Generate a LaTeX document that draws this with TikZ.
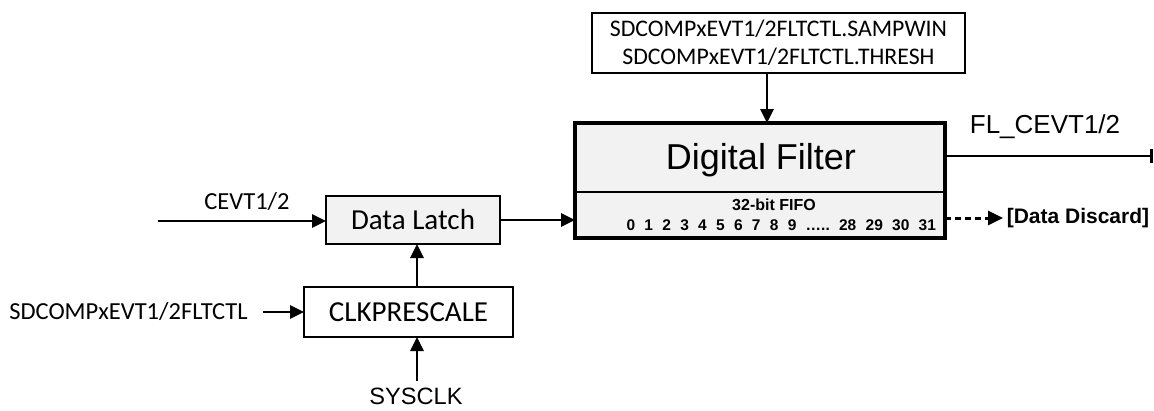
\documentclass[tikz,border=0pt]{standalone}
\usepackage{fontspec}
\setmainfont{Liberation Sans}
\newfontfamily\calfont{Carlito}
\usetikzlibrary{arrows.meta,calc}
\definecolor{boxgray}{RGB}{242,242,242}
\tikzset{
  arr/.style={line width=2.6pt,-{Triangle[length=14pt,width=13pt]}},
  plain/.style={line width=2.6pt},
  blk/.style={draw,line width=2.6pt,minimum width=#1,inner sep=0pt,outer sep=0pt},
  lbl/.style={inner sep=0pt,outer sep=0pt,anchor=center},
}
\newcommand{\gp}{\hspace{0.6em}}
\begin{document}
\begin{tikzpicture}[x=1pt,y=-1pt]
\useasboundingbox (0,0) rectangle (1154,410);
% top register box
\node[blk=373pt,minimum height=60pt,align=center,font=\calfont\fontsize{23.8}{28}\selectfont] (top) at (778.5,43)
  {SDCOMPxEVT1/2FLTCTL.SAMPWIN\\SDCOMPxEVT1/2FLTCTL.THRESH};
% digital filter box
\node[draw,line width=3.6pt,fill=boxgray,minimum width=370pt,minimum height=115pt,inner sep=0pt,outer sep=0pt] (fil) at (760,180.5) {};
\draw[line width=2.6pt] (fil.west |- 0,192) -- (fil.east |- 0,192);
\node[lbl,font=\fontsize{36}{40}\selectfont] (dftxt) at (761,160) {Digital Filter};
\node[lbl,font=\bfseries\fontsize{16}{18}\selectfont] (fifo) at (774,205) {32-bit FIFO};
\node[lbl,font=\bfseries\fontsize{15.5}{18}\selectfont,anchor=east] (nums) at (936,225)
  {0\gp 1\gp 2\gp 3\gp 4\gp 5\gp 6\gp 7\gp 8\gp 9\gp …..\gp 28\gp 29\gp 30\gp 31};
% data latch
\node[blk=174pt,fill=boxgray,minimum height=48pt,font=\calfont\fontsize{29}{32}\selectfont] (dl) at (413,220) {Data Latch};
% clkprescale
\node[blk=209pt,fill=white,minimum height=50pt,font=\calfont\fontsize{29}{32}\selectfont] (clk) at (408.5,312) {CLKPRESCALE};
% labels
\node[lbl,font=\calfont\fontsize{24.5}{28}\selectfont] (cevt) at (247,202) {CEVT1/2};
\node[lbl,font=\calfont\fontsize{24.5}{28}\selectfont] (sdc) at (128.5,312) {SDCOMPxEVT1/2FLTCTL};
\node[lbl,font=\fontsize{23.6}{28}\selectfont] (sys) at (416,396) {SYSCLK};
\node[lbl,font=\fontsize{26}{30}\selectfont] (fl) at (1045,127) {FL\_CEVT1/2};
\node[lbl,font=\bfseries\fontsize{21}{24}\selectfont] (dd) at (1078,218) {[Data Discard]};
% helper coordinates
\coordinate (ax) at (767,0);
\coordinate (cx) at (417,0);
\coordinate (cin) at (158,221);
\coordinate (sdcend) at (263,312);
\coordinate (sysend) at (417,381);
\coordinate (flend) at (1153,156);
% connectors
\draw[arr] (top.south -| ax) -- (fil.north -| ax);
\draw[arr] (cin) -- (dl.west |- cin);
\draw[arr] (dl.east |- 0,220) -- (fil.west |- 0,220);
\draw[arr] (clk.north -| cx) -- (dl.south -| cx);
\draw[arr] (sysend) -- (clk.south -| cx);
\draw[arr] (sdcend) -- (clk.west |- sdcend);
\draw[plain,-{Bar[width=14pt,line width=2.6pt]}] (fil.east |- flend) -- (flend);
\draw[line width=3pt,dash pattern=on 6pt off 4pt,-{Triangle[length=15pt,width=14pt]}] (fil.east |- 0,218) -- (1003,218);
\end{tikzpicture}
\end{document}
